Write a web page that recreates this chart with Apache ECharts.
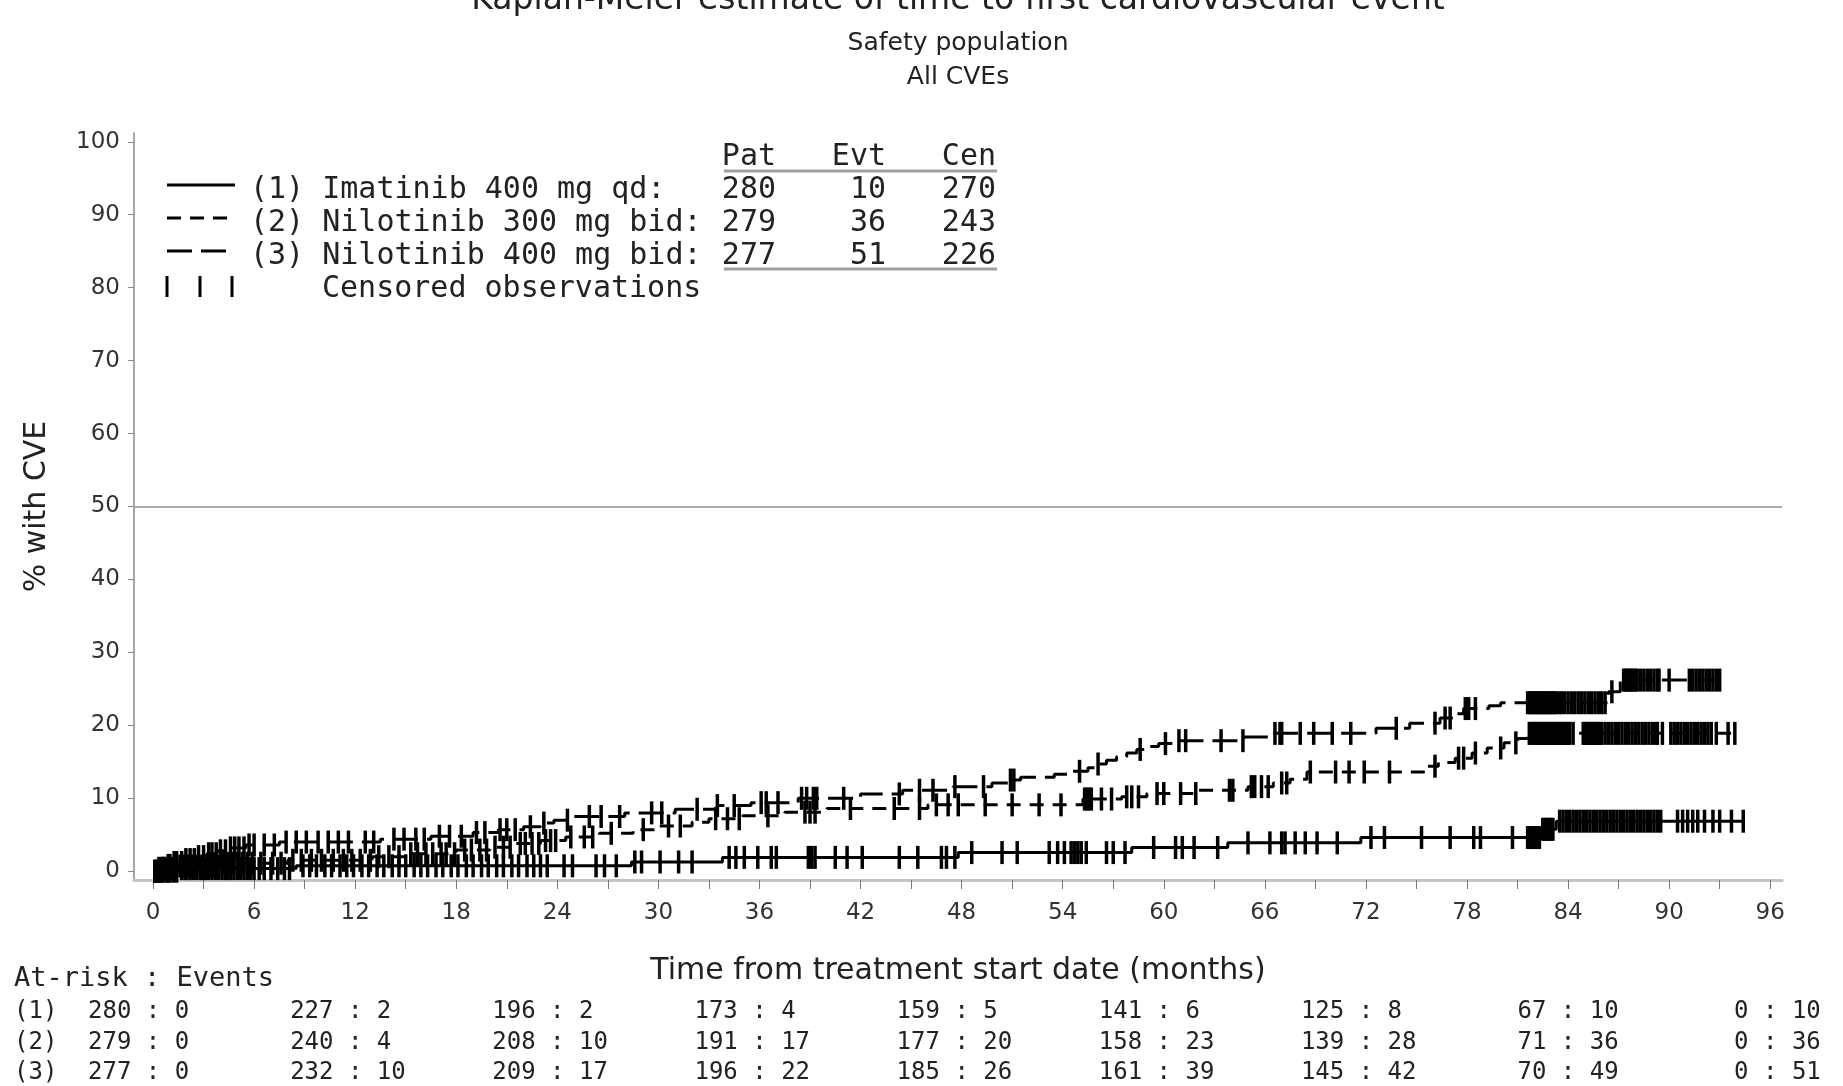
<!DOCTYPE html>
<html>
<head>
<meta charset="utf-8">
<script src="https://cdn.jsdelivr.net/npm/echarts@6/dist/echarts.min.js"></script>
<style>
html,body{margin:0;padding:0;background:#fff;}
#chart{width:1843px;height:1086px;}
</style>
</head>
<body>
<div id="chart"></div>
<script>
// ---- Titles ----
const titleLines = ['Kaplan-Meier estimate of time to first cardiovascular event', 'Safety population', 'All CVEs'];

// ---- Treatment arms ----
const armTags = ['(1)', '(2)', '(3)'];
const armNames = ['Imatinib 400 mg qd', 'Nilotinib 300 mg bid', 'Nilotinib 400 mg bid'];
const patCounts = [280, 279, 277];
const evtCounts = [10, 36, 51];
const cenCounts = [270, 243, 226];

// ---- Kaplan-Meier steps: [month, cumulative % with CVE] ----
const stepsArm1 = [[0,0],[1.5,0.36],[8.5,0.75],[28.4,1.27],[33.8,1.9],[47.8,2.56],[58.1,3.25],[63.8,3.89],[71.7,4.62],[82.4,5.75],[83.3,6.86]];
const stepsArm2 = [[0,0],[0.5,0.4],[1.5,0.7],[4,1.1],[8,1.5],[13,2.0],[15,2.4],[18,2.9],[20,3.3],[21.5,3.8],[23,4.2],
  [24.5,4.7],[26.5,5.2],[28.5,5.7],[30,6.2],[32,6.7],[33,7.2],[35,7.6],[37.5,8.1],[40,8.6],[46,9.1],
  [55.2,9.9],[57.5,10.2],[59,10.65],[62,11.1],[65,11.6],[66.5,12.1],[67.5,12.6],[68.5,13.6],
  [75.6,14.4],[76.3,14.9],[77.3,15.5],[78.3,16.2],[79.2,16.9],[80.2,17.6],[81,18.2],[81.6,18.9]];
const stepsArm3 = [[0,0],[0.3,0.4],[0.8,0.8],[1.2,1.2],[1.8,1.6],[2.5,2.0],[3.2,2.4],[3.8,2.8],[4.5,3.2],[5.5,3.6],[7.5,4.0],
  [13.5,4.4],[16.5,4.8],[19,5.3],[20.5,5.7],[22,6.1],[23,6.6],[23.8,7.0],
  [25,7.5],[28,8.0],[31,8.5],[33.5,9.0],[35.5,9.4],
  [38.3,10.0],[42,10.6],[44.5,11.1],[47.5,11.6],
  [49.8,12.1],[50.8,12.5],[51.5,12.9],[53.5,13.3],[54.5,13.7],[55.5,14.2],[56.0,14.7],[56.6,15.2],[57.2,15.7],[57.8,16.2],[58.4,16.7],[59.0,17.1],[59.7,17.5],
  [60.6,17.9],[64.8,18.4],[66.3,18.9],
  [72.6,19.6],[74.6,20.3],[76.4,21.0],[77.2,21.6],[77.8,22.3],[79.3,22.7],[80.0,23.1],
  [86.4,24.6],[87.1,26.2]];

// ---- Censoring times (months) ----
const censArm1 = [0.1,0.2,0.3,0.5,0.6,0.8,0.9,1.0,1.2,1.4,1.7,1.9,2.0,2.2,2.4,2.6,2.8,3.0,3.1,3.3,3.5,3.7,3.9,4.1,4.3,4.4,4.6,4.8,5.0,5.2,5.4,5.6,5.8,6.0,
  6.3,6.6,7.0,7.4,7.8,8.1,8.9,9.3,9.7,10.2,10.6,11.1,11.5,11.9,
  12.4,12.8,13.3,13.7,14.2,14.6,15.0,15.5,15.9,16.3,16.8,17.2,17.7,18.1,18.6,19.0,19.5,19.9,20.4,20.8,21.3,21.7,22.2,22.6,23.0,23.4,
  24.4,24.9,26.3,26.8,27.5,28.6,29.0,30.1,31.2,32.0,34.2,34.6,35.1,35.9,
  36.7,37.0,38.9,39.1,39.3,40.5,41.2,42.1,44.3,45.4,46.8,47.1,47.6,
  48.6,50.4,51.3,53.2,53.7,54.1,54.5,54.7,54.9,55.1,55.4,56.6,57.0,57.7,59.4,
  60.7,61.1,61.8,63.2,65.0,66.3,67.0,67.2,67.8,68.4,69.1,70.3,
  72.3,73.1,75.3,77.0,78.4,78.8,80.7,81.6,81.7,81.8,81.9,82.0,82.1,82.2,82.3,82.5,82.6,82.7,82.8,82.9,83.0,83.1,83.5,83.7,83.9,
  84.1,84.3,84.5,84.7,84.9,85.1,85.3,85.5,85.7,85.9,86.1,86.3,86.5,86.7,86.9,87.1,87.3,87.5,87.7,87.9,88.1,88.3,88.5,88.7,88.9,89.1,89.3,89.5,
  90.5,90.8,91.1,91.4,91.7,92.1,92.6,93.0,93.7,94.4];
const censArm2 = [0.1,0.3,0.4,0.6,0.7,0.9,1.1,1.3,1.6,1.8,2.1,2.3,2.6,2.9,3.2,3.4,3.6,3.9,4.2,4.5,4.7,5.0,5.3,5.6,5.9,6.4,7.1,7.6,8.3,8.8,9.4,10.0,10.7,11.3,11.8,
  12.3,12.9,13.4,14.0,14.6,15.3,15.7,16.2,16.6,17.1,17.4,17.9,18.5,18.9,19.4,19.8,20.3,20.8,21.2,21.8,22.1,22.5,22.9,23.3,23.6,23.9,
  24.8,25.6,26.1,27.2,29.1,30.6,31.3,33.4,34.1,34.8,
  36.5,38.7,39.0,39.3,41.4,44.0,45.5,46.5,47.2,47.8,
  49.4,51.0,52.6,53.9,55.3,55.4,55.5,55.6,55.7,56.3,56.9,57.8,58.1,58.5,59.6,60.0,
  61.0,61.9,63.9,64.1,65.2,65.4,65.8,66.2,67.0,67.3,68.7,70.2,71.0,71.9,
  73.4,76.1,77.5,77.8,78.5,80.0,80.9,81.7,81.8,81.9,82.0,82.1,82.2,82.3,82.4,82.5,82.6,82.7,82.8,82.9,83.0,83.1,83.2,83.3,83.4,83.5,83.6,83.7,83.8,83.9,
  84.0,84.1,84.3,84.9,85.0,85.1,85.2,85.3,85.4,85.5,85.6,85.7,85.8,85.9,86.0,86.2,86.4,86.6,86.8,87.0,87.2,87.4,87.6,87.8,88.0,88.2,88.4,88.6,88.8,89.0,89.2,89.3,
  89.6,90.1,90.3,90.5,90.7,90.9,91.1,91.3,91.5,91.7,91.9,92.1,92.3,92.5,92.8,93.5,93.9];
const censArm3 = [0.2,0.35,0.5,0.65,0.9,1.0,1.25,1.4,1.7,1.95,2.2,2.45,2.7,3.0,3.3,3.5,3.75,4.0,4.3,4.6,4.85,5.1,5.4,5.7,6.0,6.6,7.2,7.9,8.5,9.1,9.8,10.4,11.0,11.6,
  12.6,13.1,14.3,14.9,15.6,16.1,17.0,17.6,18.3,19.2,19.7,20.6,21.0,21.5,22.4,23.2,
  24.6,25.9,26.6,27.7,29.6,30.2,32.3,33.5,34.5,
  36.1,36.4,37.1,38.5,38.8,39.2,39.4,41.0,44.3,45.5,46.3,47.6,
  49.3,50.9,51.1,55.0,56.1,58.6,
  60.1,60.9,61.3,63.4,64.7,66.6,66.9,67.0,68.1,68.9,70.0,71.1,
  73.8,76.1,76.7,77.0,77.9,78.1,78.5,
  81.6,81.7,81.8,81.9,82.0,82.1,82.2,82.3,82.4,82.5,82.6,82.7,82.8,82.9,83.0,83.1,83.2,83.3,83.5,83.6,83.8,84.0,
  84.2,84.4,84.6,84.8,85.0,85.2,85.4,85.6,85.8,86.0,86.2,86.6,
  87.3,87.4,87.5,87.6,87.7,87.8,87.9,88.0,88.1,88.3,88.5,88.7,88.9,89.1,89.3,89.4,90.0,
  91.2,91.4,91.6,91.8,92.0,92.2,92.4,92.6,92.8,93.0];

// ---- Axis ticks ----
const xTickMonths = [0,3,6,9,12,15,18,21,24,27,30,33,36,39,42,45,48,51,54,57,60,63,66,69,72,75,78,81,84,87,90,93,96];
const xLabelMonths = [0,6,12,18,24,30,36,42,48,54,60,66,72,78,84,90,96];
const yTickValues = [0,10,20,30,40,50,60,70,80,90,100];

// ---- Numbers at risk : cumulative events ----
const riskMonths = [0,12,24,36,48,60,72,84,96];
const atRiskArm1 = [280,227,196,173,159,141,125,67,0];
const eventsArm1 = [0,2,2,4,5,6,8,10,10];
const atRiskArm2 = [279,240,208,191,177,158,139,71,0];
const eventsArm2 = [0,4,10,17,20,23,28,36,36];
const atRiskArm3 = [277,232,209,196,185,161,145,70,0];
const eventsArm3 = [0,10,17,22,26,39,42,49,51];

const SANS = '"DejaVu Sans", "Liberation Sans", sans-serif';
const MONO = '"DejaVu Sans Mono", "Liberation Mono", monospace';
const INK = '#000';

function valueAt(steps, t) {
  let v = 0;
  for (const [m, p] of steps) { if (m <= t) v = p; }
  return v;
}
function curveData(steps, cens) {
  const last = Math.max(...cens);
  return steps.concat([[last, steps[steps.length - 1][1]]]);
}
function censorData(steps, cens) {
  return cens.map(t => [t, valueAt(steps, t)]);
}

const arms = [
  {steps: stepsArm1, cens: censArm1, dash: 'solid'},
  {steps: stepsArm2, cens: censArm2, dash: [14, 9]},
  {steps: stepsArm3, cens: censArm3, dash: [25, 9]}
];

const series = [];
arms.forEach((a, i) => {
  const line = {
    type: 'line', step: 'end', showSymbol: false, silent: true, z: 3,
    data: curveData(a.steps, a.cens),
    lineStyle: {color: INK, width: 3, type: a.dash, opacity: 1}
  };
  if (i === 0) {
    line.markLine = {
      silent: true, symbol: 'none', label: {show: false},
      lineStyle: {color: '#ababab', width: 2, type: 'solid'},
      data: [{yAxis: 50}]
    };
  }
  series.push(line);
  series.push({
    type: 'scatter', silent: true, z: 4,
    symbol: 'rect', symbolSize: [3.5, 23],
    itemStyle: {color: INK, opacity: 1},
    data: censorData(a.steps, a.cens)
  });
});

const chart = echarts.init(document.getElementById('chart'));
chart.setOption({
  animation: false,
  backgroundColor: '#fff',
  grid: {left: 134, right: 61, top: 133, bottom: 206},
  xAxis: {
    type: 'value', min: -1.13, max: 96.7,
    name: 'Time from treatment start date (months)',
    nameLocation: 'middle', nameGap: 76,
    nameTextStyle: {fontFamily: SANS, fontSize: 30, color: '#222'},
    axisLine: {show: true, onZero: false, lineStyle: {color: '#c4c4c4', width: 3}},
    axisTick: {show: true, length: 9, customValues: xTickMonths, lineStyle: {color: '#777', width: 1}},
    axisLabel: {customValues: xLabelMonths, fontFamily: SANS, fontSize: 23, color: '#333', margin: 22},
    splitLine: {show: false}
  },
  yAxis: {
    type: 'value', min: -1.2, max: 101.2,
    name: '% with CVE',
    nameLocation: 'middle', nameGap: 82,
    nameTextStyle: {fontFamily: SANS, fontSize: 30, color: '#222'},
    axisLine: {show: true, onZero: false, lineStyle: {color: '#8a8a8a', width: 1.5}},
    axisTick: {show: true, length: 6, customValues: yTickValues, lineStyle: {color: '#8a8a8a', width: 1}},
    axisLabel: {customValues: yTickValues, fontFamily: SANS, fontSize: 23, color: '#333', margin: 14},
    splitLine: {show: false}
  },
  series: series
});

// ---- Titles, legend table and at-risk table ----
const g = [];
function txt(x, y, text, font, align, color) {
  g.push({type: 'text', x: x, y: y, silent: true, z: 10,
    style: {text: text, font: font, fill: color || '#222',
      textAlign: align || 'left', align: align || 'left',
      textVerticalAlign: 'middle', verticalAlign: 'middle'}});
}
txt(958, 0, titleLines[0], '33px ' + SANS, 'center');
txt(958, 43, titleLines[1], '25px ' + SANS, 'center');
txt(958, 77, titleLines[2], '25px ' + SANS, 'center');

// legend block
const rowY = [190, 223, 256, 289];
const LEG = '30px ' + MONO;
arms.forEach((a, i) => {
  g.push({type: 'line', silent: true, z: 10,
    shape: {x1: 167, y1: rowY[i] - 5, x2: 235, y2: rowY[i] - 5},
    style: {stroke: INK, lineWidth: 3, lineDash: a.dash === 'solid' ? null : a.dash}});
  txt(250, rowY[i], armTags[i] + ' ' + armNames[i] + ':', LEG, 'left', '#222');
  txt(776, rowY[i], String(patCounts[i]), LEG, 'right', '#222');
  txt(886, rowY[i], String(evtCounts[i]), LEG, 'right', '#222');
  txt(996, rowY[i], String(cenCounts[i]), LEG, 'right', '#222');
});
[167, 200, 232].forEach(x => g.push({type: 'rect', silent: true, z: 10,
  shape: {x: x - 1.5, y: rowY[3] - 13, width: 3, height: 21}, style: {fill: INK}}));
txt(322, rowY[3], 'Censored observations', LEG, 'left', '#222');
txt(776, 157, 'Pat', LEG, 'right', '#222');
txt(886, 157, 'Evt', LEG, 'right', '#222');
txt(996, 157, 'Cen', LEG, 'right', '#222');
[171, 269].forEach(y => g.push({type: 'line', silent: true, z: 10,
  shape: {x1: 724, y1: y, x2: 997, y2: y}, style: {stroke: '#a0a0a0', lineWidth: 3}}));

// at-risk table, each cell aligned on its colon at the month position
const RISK = '24px ' + MONO;
const cw = 24 * 0.602;
txt(14, 979, 'At-risk : Events', '27px ' + MONO, 'left', '#222');
const riskRows = [[atRiskArm1, eventsArm1], [atRiskArm2, eventsArm2], [atRiskArm3, eventsArm3]];
const riskY = [1012, 1043, 1073];
riskRows.forEach((r, i) => {
  txt(14, riskY[i], armTags[i], RISK, 'left', '#222');
  riskMonths.forEach((m, j) => {
    const x = chart.convertToPixel({xAxisIndex: 0}, m);
    txt(x - cw / 2, riskY[i], String(r[0][j]) + ' ', RISK, 'right', '#222');
    txt(x, riskY[i], ':', RISK, 'center', '#222');
    txt(x + cw / 2, riskY[i], ' ' + String(r[1][j]), RISK, 'left', '#222');
  });
});

chart.setOption({graphic: {elements: g}});
</script>
</body>
</html>
